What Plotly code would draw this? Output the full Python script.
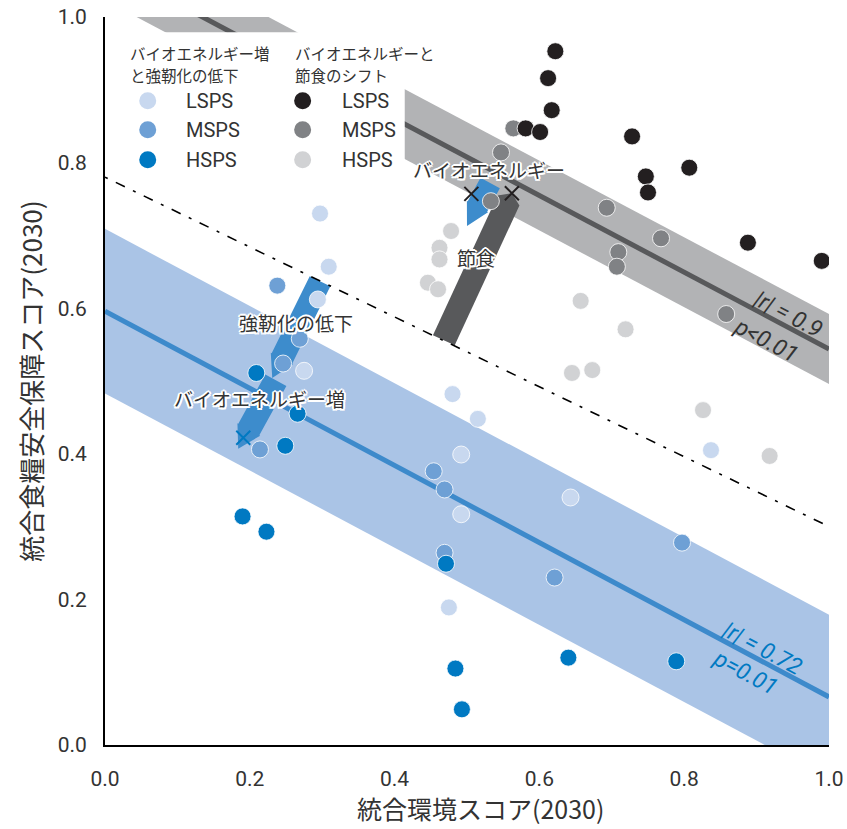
import plotly.graph_objects as go
import math

# ---------------- data ----------------
# Bioenergy increase & reduced resilience group (blue)
bio_lsps_x = [0.297, 0.309, 0.294, 0.275, 0.480, 0.515, 0.492, 0.492, 0.643, 0.475, 0.837]
bio_lsps_y = [0.730, 0.657, 0.612, 0.514, 0.482, 0.448, 0.399, 0.317, 0.340, 0.189, 0.405]
bio_msps_x = [0.238, 0.269, 0.246, 0.214, 0.454, 0.469, 0.469, 0.621, 0.797]
bio_msps_y = [0.631, 0.558, 0.524, 0.406, 0.376, 0.351, 0.264, 0.230, 0.278]
bio_hsps_x = [0.209, 0.266, 0.249, 0.190, 0.223, 0.471, 0.484, 0.493, 0.640, 0.789]
bio_hsps_y = [0.511, 0.455, 0.411, 0.314, 0.293, 0.249, 0.105, 0.049, 0.120, 0.115]
# Bioenergy & diet shift group (grey)
diet_lsps_x = [0.622, 0.612, 0.617, 0.581, 0.601, 0.728, 0.747, 0.750, 0.807, 0.888, 0.990]
diet_lsps_y = [0.953, 0.916, 0.872, 0.847, 0.842, 0.836, 0.781, 0.759, 0.793, 0.690, 0.665]
diet_msps_x = [0.564, 0.547, 0.533, 0.693, 0.768, 0.709, 0.707, 0.858]
diet_msps_y = [0.847, 0.814, 0.747, 0.738, 0.696, 0.677, 0.657, 0.592]
diet_hsps_x = [0.478, 0.462, 0.462, 0.446, 0.460, 0.657, 0.719, 0.645, 0.673, 0.826, 0.918]
diet_hsps_y = [0.706, 0.683, 0.667, 0.635, 0.626, 0.610, 0.571, 0.511, 0.515, 0.460, 0.397]

# regression fits (end points at x=0 and x=1) and band half widths
fit_x = [0.0, 1.0]
blue_fit_y = [0.596, 0.066]
blue_band_hw = 0.113
grey_fit_y = [1.071, 0.544]
grey_band_hw = 0.048
# dash-dot reference line
ref_x = [0.0, 1.0]
ref_y = [0.78, 0.30]

# scenario X markers
cross_black_x = [0.506, 0.562]
cross_black_y = [0.757, 0.758]
cross_blue_x = [0.191]
cross_blue_y = [0.422]

# arrows: (tail x, tail y, tip x, tip y)
arrow_blue_resil = (0.297, 0.637, 0.231, 0.504)
arrow_blue_bio = (0.236, 0.501, 0.184, 0.407)
arrow_blue_bio2 = (0.532, 0.772, 0.500, 0.713)
arrow_grey_diet = (0.468, 0.556, 0.562, 0.758)

x_ticks = [0.0, 0.2, 0.4, 0.6, 0.8, 1.0]
y_ticks = [0.0, 0.2, 0.4, 0.6, 0.8, 1.0]
tick_text = ["0.0", "0.2", "0.4", "0.6", "0.8", "1.0"]

# ---------------- styles ----------------
C_LB = "#c8d8ef"
C_MB = "#6ea0d5"
C_DB = "#0079c2"
C_BK = "#231f20"
C_MG = "#808285"
C_LG = "#d1d2d4"
C_BAND_B = "#aac4e6"
C_LINE_B = "#3d8acb"
C_BAND_G = "#b2b3b5"
C_LINE_G = "#58595b"
C_ARROW_B = "#3d8ccc"
C_ARROW_G = "#58595b"
TXT = "#333333"

NARROW = "Roboto, Liberation Sans, sans-serif"
CJK = "Noto Sans CJK JP, sans-serif"

W, H = 847, 829
ML, MR, MT, MB = 105, 18, 17, 84
SX = W - ML - MR
SY = H - MT - MB

fig = go.Figure()


def band(y_end, hw):
    xs = fit_x + fit_x[::-1] + [fit_x[0]]
    ys = [y_end[0] + hw, y_end[1] + hw, y_end[1] - hw, y_end[0] - hw, y_end[0] + hw]
    return xs, ys


bx, by = band(blue_fit_y, blue_band_hw)
fig.add_trace(go.Scatter(x=bx, y=by, fill="toself", fillcolor=C_BAND_B, mode="none",
                         hoverinfo="skip", showlegend=False))
gx, gy = band(grey_fit_y, grey_band_hw)
fig.add_trace(go.Scatter(x=gx, y=gy, fill="toself", fillcolor=C_BAND_G, mode="none",
                         hoverinfo="skip", showlegend=False))
fig.add_trace(go.Scatter(x=fit_x, y=blue_fit_y, mode="lines", line=dict(color=C_LINE_B, width=5),
                         hoverinfo="skip", showlegend=False))
fig.add_trace(go.Scatter(x=fit_x, y=grey_fit_y, mode="lines", line=dict(color=C_LINE_G, width=5),
                         hoverinfo="skip", showlegend=False))

# white legend box hiding the band behind the legend
fig.add_trace(go.Scatter(x=[-0.01, 0.414, 0.414, -0.01, -0.01], y=[0.795, 0.795, 0.979, 0.979, 0.795],
                         fill="toself", fillcolor="white", mode="none", hoverinfo="skip",
                         showlegend=False))


def arrow_poly(a, sw, hw, hl):
    tx, ty, px, py = a[0] * SX, a[1] * SY, a[2] * SX, a[3] * SY
    dx, dy = px - tx, py - ty
    L = math.hypot(dx, dy)
    ux, uy = dx / L, dy / L
    nx, ny = -uy, ux
    bxp, byp = px - ux * hl, py - uy * hl
    pts = [
        (tx + nx * sw / 2, ty + ny * sw / 2),
        (bxp + nx * sw / 2, byp + ny * sw / 2),
        (bxp + nx * hw / 2, byp + ny * hw / 2),
        (px, py),
        (bxp - nx * hw / 2, byp - ny * hw / 2),
        (bxp - nx * sw / 2, byp - ny * sw / 2),
        (tx - nx * sw / 2, ty - ny * sw / 2),
    ]
    pts.append(pts[0])
    return [p[0] / SX for p in pts], [p[1] / SY for p in pts]


for a, col, sw, hw, hl in [
    (arrow_blue_resil, C_ARROW_B, 23, 25, 22),
    (arrow_blue_bio, C_ARROW_B, 24, 26, 22),
    (arrow_blue_bio2, C_ARROW_B, 22, 24, 22),
    (arrow_grey_diet, C_ARROW_G, 24, 24, 8),
]:
    ax, ay = arrow_poly(a, sw, hw, hl)
    fig.add_trace(go.Scatter(x=ax, y=ay, fill="toself", fillcolor=col, mode="none",
                             hoverinfo="skip", showlegend=False))

fig.add_trace(go.Scatter(x=ref_x, y=ref_y, mode="lines",
                         line=dict(color="black", width=1.6, dash="3px,9px,10px,9px"),
                         hoverinfo="skip", showlegend=False))


def pts(x, y, c):
    fig.add_trace(go.Scatter(x=x, y=y, mode="markers",
                             marker=dict(size=17, color=c, line=dict(color="white", width=0.8)),
                             showlegend=False, hoverinfo="x+y"))


pts(bio_lsps_x, bio_lsps_y, C_LB)
pts(bio_msps_x, bio_msps_y, C_MB)
pts(bio_hsps_x, bio_hsps_y, C_DB)
pts(diet_hsps_x, diet_hsps_y, C_LG)
pts(diet_msps_x, diet_msps_y, C_MG)
pts(diet_lsps_x, diet_lsps_y, C_BK)

fig.add_trace(go.Scatter(x=cross_black_x, y=cross_black_y, mode="markers",
                         marker=dict(symbol="x-thin", size=14, line=dict(color="#231f20", width=2)),
                         showlegend=False, hoverinfo="skip"))
fig.add_trace(go.Scatter(x=cross_blue_x, y=cross_blue_y, mode="markers",
                         marker=dict(symbol="x-thin", size=14, line=dict(color=C_DB, width=2)),
                         showlegend=False, hoverinfo="skip"))

# ---------------- manual legend ----------------
leg_left_x, leg_right_x = 0.059, 0.273
leg_rows_y = [0.885, 0.845, 0.804]
leg_labels = ["LSPS", "MSPS", "HSPS"]
fig.add_trace(go.Scatter(x=[leg_left_x] * 3, y=leg_rows_y, mode="markers",
                         marker=dict(size=17, color=[C_LB, C_MB, C_DB]),
                         showlegend=False, hoverinfo="skip"))
fig.add_trace(go.Scatter(x=[leg_right_x] * 3, y=leg_rows_y, mode="markers",
                         marker=dict(size=17, color=[C_BK, C_MG, C_LG]),
                         showlegend=False, hoverinfo="skip"))

ann = []
for lx in (0.109, 0.325):
    for yy, lab in zip(leg_rows_y, leg_labels):
        ann.append(dict(x=lx, y=yy, text=lab, xanchor="left", yanchor="middle", showarrow=False,
                        font=dict(family=NARROW, size=20, color=TXT)))
for lx, lines in [(0.032, ["バイオエネルギー増", "と強靭化の低下"]),
                  (0.260, ["バイオエネルギーと", "節食のシフト"])]:
    for i, t in enumerate(lines):
        ann.append(dict(x=lx, y=0.951 - i * 0.030, text=t, xanchor="left", yanchor="middle",
                        showarrow=False, font=dict(family=CJK, size=15.5, color=TXT)))

SHADOW = ("2px 0 0 #fff, -2px 0 0 #fff, 0 2px 0 #fff, 0 -2px 0 #fff, "
          "1.5px 1.5px 0 #fff, -1.5px -1.5px 0 #fff, 1.5px -1.5px 0 #fff, -1.5px 1.5px 0 #fff")
for x, y, t in [(0.530, 0.790, "バイオエネルギー"),
                (0.512, 0.670, "節食"),
                (0.264, 0.580, "強靭化の低下"),
                (0.214, 0.476, "バイオエネルギー増")]:
    ann.append(dict(x=x, y=y, text=t, showarrow=False, xanchor="center", yanchor="middle",
                    font=dict(family=CJK, size=19, color=TXT, shadow=SHADOW)))

for x, y, t, c, ang in [(0.944, 0.592, "|r| = 0.9", TXT, 27.7),
                        (0.913, 0.556, "p<0.01", TXT, 27.7),
                        (0.908, 0.133, "|r| = 0.72", C_DB, 28.2),
                        (0.884, 0.100, "p=0.01", C_DB, 28.2)]:
    ann.append(dict(x=x, y=y, text=t, showarrow=False, textangle=ang, xanchor="center",
                    yanchor="middle", font=dict(family=NARROW, size=23, color=c, style="italic")))

# axis titles
ann.append(dict(xref="paper", yref="paper", x=0.518, y=-0.0865, text="統合環境スコア(2030)",
                showarrow=False, xanchor="center", yanchor="middle",
                font=dict(family=CJK, size=25, color=TXT)))
ann.append(dict(xref="paper", yref="paper", x=-0.104, y=0.5, text="統合食糧安全保障スコア(2030)",
                showarrow=False, xanchor="center", yanchor="middle", textangle=-90,
                font=dict(family=CJK, size=26, color=TXT)))

fig.update_layout(
    width=W, height=H,
    margin=dict(l=ML, r=MR, t=MT, b=MB, autoexpand=False),
    plot_bgcolor="white", paper_bgcolor="white",
    annotations=ann,
    showlegend=False,
)
fig.update_xaxes(range=[0, 1], tickvals=x_ticks, ticktext=tick_text, showgrid=False, zeroline=False,
                 showline=True, linecolor="black", linewidth=2, ticks="", automargin=False,
                 tickfont=dict(family=NARROW, size=21, color=TXT), ticklabelstandoff=14)
fig.update_yaxes(range=[0, 1], tickvals=y_ticks, ticktext=tick_text, showgrid=False, zeroline=False,
                 showline=True, linecolor="black", linewidth=2, ticks="", automargin=False,
                 tickfont=dict(family=NARROW, size=21, color=TXT), ticklabelstandoff=12)

fig.write_html("out.html", config={"displayModeBar": False},
               post_script="document.body.style.margin='0px';")
